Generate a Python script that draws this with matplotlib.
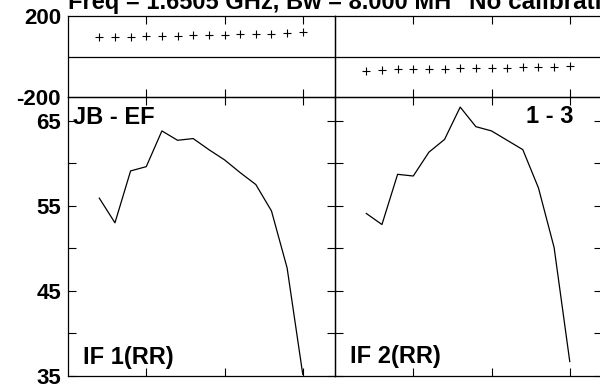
import matplotlib
matplotlib.use('Agg')
import matplotlib.pyplot as plt

# ---- data ----
channels = [2, 3, 4, 5, 6, 7, 8, 9, 10, 11, 12, 13, 14, 15]
amp_if1 = [55.9, 53.0, 59.1, 59.6, 63.8, 62.7, 62.9, 61.6, 60.4, 58.9, 57.5, 54.4, 47.7, 35.2]
amp_if2 = [54.1, 52.8, 58.7, 58.5, 61.3, 62.8, 66.6, 64.3, 63.8, 62.7, 61.6, 57.1, 50.1, 36.7]
phase_if1 = [94, 94, 97, 100, 100, 101, 104, 107, 107, 109, 109, 112, 114, 118]
phase_if2 = [-71, -66, -63, -61, -61, -60, -56, -55, -55, -55, -53, -51, -51, -46]
phase_ticks = [-200, 200]
amp_major = [35, 45, 55, 65]
amp_minor = [40, 50, 60]
x_ticks = [5, 10, 15]
baseline_label = "JB - EF"
pair_label = "1 - 3"
if_labels = ["IF 1(RR)", "IF 2(RR)"]
title_left = "Freq = 1.6505 GHz, Bw = 8.000 MH"
title_right = "No calibration applied"

plt.rcParams['font.family'] = ['Liberation Sans', 'DejaVu Sans']
plt.rcParams['font.weight'] = 'bold'
plt.rcParams['axes.unicode_minus'] = False

W, H = 600, 384
fig = plt.figure(figsize=(W / 100, H / 100), dpi=100)


def ax_at(x0, y0, x1, y1):
    return fig.add_axes([x0 / W, 1 - y1 / H, (x1 - x0) / W, (y1 - y0) / H])


XL, XM, XR = 68, 335, 602
YT, YM, YB = 15.7, 97.3, 376.0
XLIM = (0, 17.06)

axes_top = [ax_at(XL, YT, XM, YM), ax_at(XM, YT, XR, YM)]
axes_bot = [ax_at(XL, YM, XM, YB), ax_at(XM, YM, XR, YB)]

for ax in axes_top + axes_bot:
    ax.set_xlim(*XLIM)
    ax.set_xticks(x_ticks)
    ax.tick_params(axis='both', which='both', direction='in', top=True, right=True,
                   bottom=True, left=True, labelbottom=False, length=5.5, width=0.8,
                   color='black', labelsize=16, pad=5)
    for s in ax.spines.values():
        s.set_linewidth(0.9)
        s.set_color('black')
    ax.patch.set_alpha(0)

# phase panels
for i, (ax, ph) in enumerate(zip(axes_top, [phase_if1, phase_if2])):
    ax.set_ylim(-200, 200)
    ax.set_yticks(phase_ticks)
    ax.tick_params(axis='y', length=0)
    ax.axhline(0, color='black', lw=0.9)
    ax.plot(channels, ph, linestyle='none', marker='+', color='black',
            markersize=5.5, markeredgewidth=0.8)
    if i > 0:
        ax.tick_params(axis='y', labelleft=False)
    else:
        for lab in ax.get_yticklabels():
            lab.set_fontweight('bold')

# amplitude panels
for i, (ax, amp) in enumerate(zip(axes_bot, [amp_if1, amp_if2])):
    ax.set_ylim(35, 67.75)
    ax.set_yticks(amp_major)
    ax.set_yticks(amp_minor, minor=True)
    ax.plot(channels, amp, color='black', lw=0.9)
    if i > 0:
        ax.tick_params(axis='y', labelleft=False)
    else:
        for lab in ax.get_yticklabels():
            lab.set_fontweight('bold')

fs_lab = 17
fig.text(73 / W, 1 - 124 / H, baseline_label, fontsize=fs_lab, fontweight='bold',
         ha='left', va='baseline')
fig.text(573 / W, 1 - 123.3 / H, pair_label, fontsize=fs_lab, fontweight='bold',
         ha='right', va='baseline')
fig.text(83 / W, 1 - 364 / H, if_labels[0], fontsize=fs_lab, fontweight='bold',
         ha='left', va='baseline')
fig.text(350 / W, 1 - 363 / H, if_labels[1], fontsize=fs_lab, fontweight='bold',
         ha='left', va='baseline')

fig.text(68 / W, 1 - 9.5 / H, title_left, fontsize=17, fontweight='bold',
         ha='left', va='baseline')
fig.text(469 / W, 1 - 9.5 / H, title_right, fontsize=17.5, fontweight='bold',
         ha='left', va='baseline')

fig.savefig('out.png', dpi=100, facecolor='white')
